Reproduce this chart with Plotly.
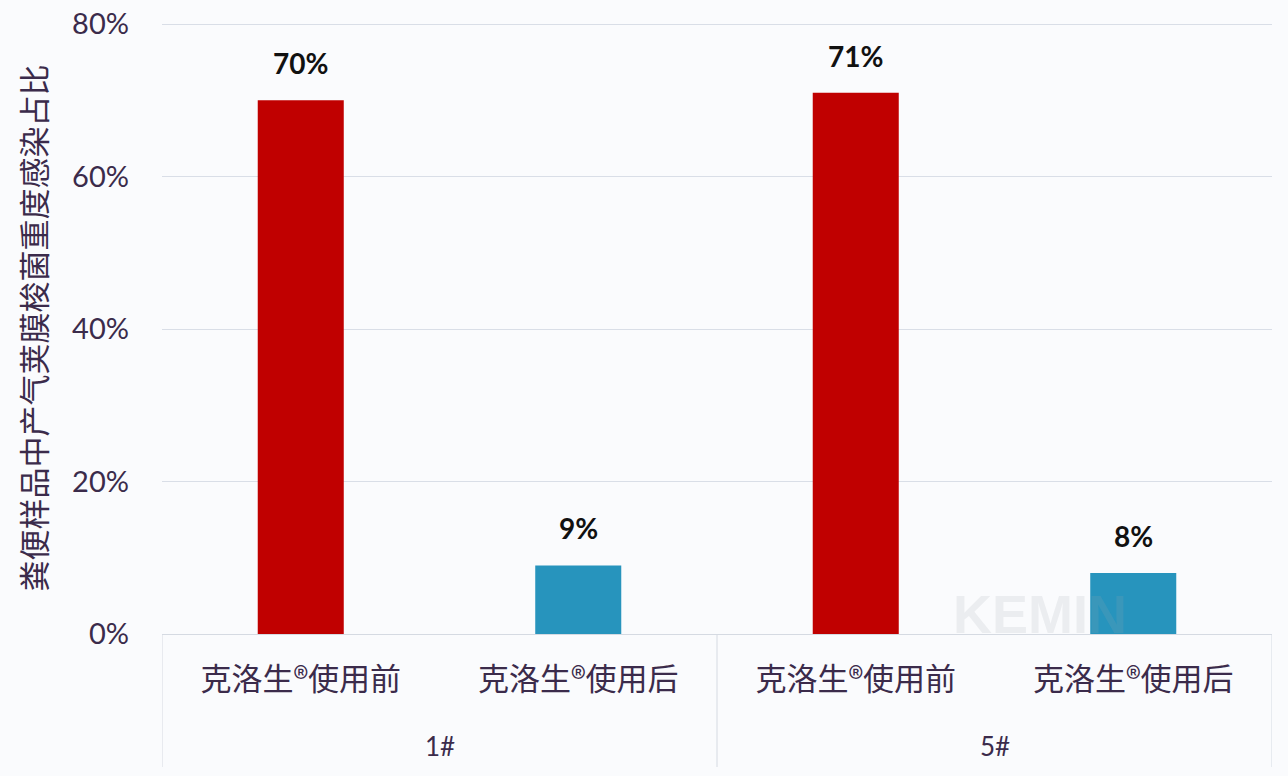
import plotly.graph_objects as go

groups = ["1#", "1#", "5#", "5#"]
categories = ["克洛生®使用前", "克洛生®使用后", "克洛生®使用前", "克洛生®使用后"]
values = [0.70, 0.09, 0.71, 0.08]
labels = ["70%", "9%", "71%", "8%"]
colors = ["#C00000", "#2794BD", "#C00000", "#2794BD"]
y_ticks = [0, 0.2, 0.4, 0.6, 0.8]
y_tick_text = ["0%", "20%", "40%", "60%", "80%"]
y_title = "粪便样品中产气荚膜梭菌重度感染占比"

font_family = "Noto Sans CJK SC, Noto Sans, sans-serif"
num_font = "Lato, Noto Sans, sans-serif"
text_color = "#3B2B4B"
line_color = "#D5DAE2"

W, H = 1288, 776
plot_left, plot_right = 162, 1272
plot_top, plot_bottom = 22, 634
px_per_unit = (634 - 24) / 0.8
y_top = (plot_bottom - plot_top) / px_per_unit
plot_h = plot_bottom - plot_top
plot_w = plot_right - plot_left

positions = list(range(len(categories)))

fig = go.Figure()

# faint watermark (kept clear of the tick labels)
fig.add_annotation(
    text="KEMIN", x=(1040 - plot_left) / plot_w, y=-(614 - plot_bottom) / plot_h,
    xref="paper", yref="paper", showarrow=False,
    font=dict(family="Liberation Sans, Arial, sans-serif", size=54,
              color="rgba(160,165,175,0.16)", weight="bold"),
    yanchor="middle", xanchor="center",
)

fig.add_trace(go.Bar(
    x=positions,
    y=values,
    marker=dict(color=colors, line=dict(width=0)),
    width=0.31,
    hoverinfo="skip",
))

# data labels
for xp, v, t in zip(positions, values, labels):
    fig.add_annotation(
        x=xp, y=v, text=t, showarrow=False, yshift=37, yanchor="middle",
        font=dict(family=num_font, size=28, color="#111111", weight="bold"),
    )

# group labels and dividers
unique_groups = []
for g in groups:
    if g not in unique_groups:
        unique_groups.append(g)
bottom = -(767 - plot_bottom) / plot_h
for g in unique_groups:
    idx = [i for i, gg in enumerate(groups) if gg == g]
    xc = sum(positions[i] for i in idx) / len(idx)
    fig.add_annotation(
        x=xc, y=-(746 - plot_bottom) / plot_h, yref="paper", text=g, showarrow=False,
        yanchor="middle", font=dict(family=num_font, size=26, color=text_color),
    )
boundaries = [positions[0] - 0.5]
for i in range(1, len(groups)):
    if groups[i] != groups[i - 1]:
        boundaries.append(positions[i] - 0.5)
boundaries.append(positions[-1] + 0.5)
for b in boundaries:
    fig.add_shape(type="line", x0=b, x1=b, y0=0, y1=bottom, xref="x", yref="paper",
                  line=dict(color=line_color, width=1))

fig.update_layout(
    width=W, height=H,
    margin=dict(l=plot_left, r=W - plot_right, t=plot_top, b=H - plot_bottom, pad=0),
    paper_bgcolor="#FAFBFD",
    plot_bgcolor="#FAFBFD",
    showlegend=False,
    font=dict(family=font_family, color=text_color),
    xaxis=dict(
        range=[-0.5, len(categories) - 0.5],
        tickvals=positions, ticktext=categories,
        tickfont=dict(family=font_family, size=31, color=text_color),
        ticklabelstandoff=18,
        showline=True, linecolor=line_color, linewidth=1,
        ticks="", showgrid=False, zeroline=False,
        fixedrange=True, automargin=False,
    ),
    yaxis=dict(
        range=[0, y_top],
        tickvals=y_ticks, ticktext=y_tick_text,
        tickfont=dict(family=num_font, size=29, color=text_color),
        ticklabelstandoff=32,
        gridcolor="#D9DEE7", gridwidth=1,
        zeroline=False, showline=False,
        ticks="",
        title=dict(text=y_title, font=dict(family=font_family, size=31, color=text_color), standoff=16),
        fixedrange=True, automargin=False,
    ),
)

fig.write_html("out.html", config={"displayModeBar": False},
               post_script="document.body.style.margin='0';")
